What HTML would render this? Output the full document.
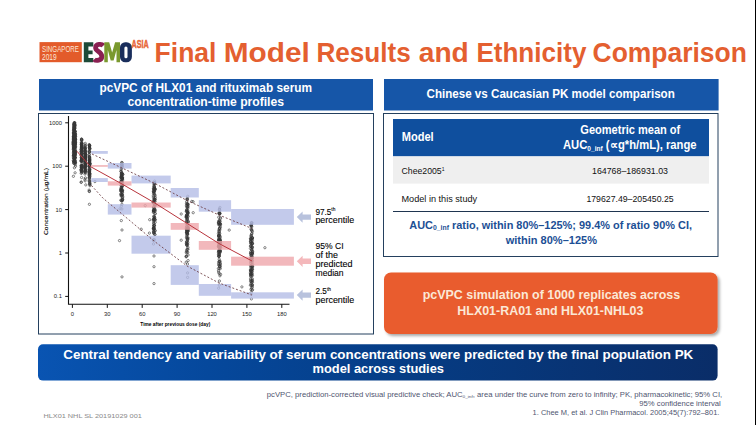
<!DOCTYPE html><html><head><meta charset="utf-8"><style>html,body{margin:0;padding:0;background:#fff;width:756px;height:425px;overflow:hidden}</style></head><body><svg width="756" height="425" viewBox="0 0 756 425" font-family="Liberation Sans, sans-serif" style="display:block">
<defs><linearGradient id="bn" x1="0" x2="1" y1="0" y2="0"><stop offset="0" stop-color="#0954b2"/><stop offset="0.25" stop-color="#05489c"/><stop offset="0.6" stop-color="#063a80"/><stop offset="1" stop-color="#0a2d68"/></linearGradient><filter id="sh" x="-5%" y="-10%" width="110%" height="130%"><feGaussianBlur in="SourceAlpha" stdDeviation="1.5"/><feOffset dx="1.5" dy="2" result="b"/><feComponentTransfer><feFuncA type="linear" slope="0.35"/></feComponentTransfer><feMerge><feMergeNode/><feMergeNode in="SourceGraphic"/></feMerge></filter></defs>
<rect width="756" height="425" fill="#fff"/>
<rect x="755" y="0" width="1" height="425" fill="#000"/>
<rect x="39.5" y="42.1" width="42.3" height="20.1" fill="#e35b2a"/>
<text x="42" y="51.6" font-size="9.3" fill="#fbe6d6" font-weight="normal" text-anchor="start" textLength="36.9" lengthAdjust="spacingAndGlyphs" >SINGAPORE</text>
<text x="42" y="59.5" font-size="9.3" fill="#fbe6d6" font-weight="normal" text-anchor="start" textLength="14.6" lengthAdjust="spacingAndGlyphs" >2019</text>
<path d="M83.8 42.3H93.3V46.6H88.4V50.4H92.6V54.3H88.4V58.1H93.3V62.3H83.8Z" fill="#1d4a38"/>
<path d="M103.4 45.6C102 43.9 95.8 43.5 95.6 47.6C95.4 51.6 101.8 51.6 101.8 56.5C101.8 60.9 95.8 61 94.2 59.3" fill="none" stroke="#8a2052" stroke-width="4.8"/>
<path d="M104.3 62.3V42.3H109.2L112.15 52.5L115.1 42.3H120V62.3H116.5V50L113.6 60.5H110.7L107.8 50V62.3Z" fill="#7a992e"/>
<rect x="120" y="42.3" width="11.9" height="20" rx="5.2" fill="#1a2e5c"/>
<rect x="124.4" y="46.6" width="3.1" height="11.6" rx="1.5" fill="#fff"/>
<text x="131.6" y="47.5" font-size="11" fill="#e8673a" font-weight="bold" text-anchor="start" textLength="17.2" lengthAdjust="spacingAndGlyphs" stroke="#e8673a" stroke-width="0.5">ASIA</text>
<text x="154.60000000000002" y="61.5" font-size="28" fill="#e45f30" font-weight="bold" text-anchor="start" textLength="61.8" lengthAdjust="spacingAndGlyphs" >Final</text>
<text x="223.8" y="61.5" font-size="28" fill="#e45f30" font-weight="bold" text-anchor="start" textLength="86.0" lengthAdjust="spacingAndGlyphs" >Model</text>
<text x="316.4" y="61.5" font-size="28" fill="#e45f30" font-weight="bold" text-anchor="start" textLength="94.4" lengthAdjust="spacingAndGlyphs" >Results</text>
<text x="418.79999999999995" y="61.5" font-size="28" fill="#e45f30" font-weight="bold" text-anchor="start" textLength="50.0" lengthAdjust="spacingAndGlyphs" >and</text>
<text x="476.4" y="61.5" font-size="28" fill="#e45f30" font-weight="bold" text-anchor="start" textLength="110.0" lengthAdjust="spacingAndGlyphs" >Ethnicity</text>
<text x="592.5999999999999" y="61.5" font-size="28" fill="#e45f30" font-weight="bold" text-anchor="start" textLength="154.2" lengthAdjust="spacingAndGlyphs" >Comparison</text>
<rect x="39" y="79" width="334" height="31.5" fill="#1656a8"/>
<text x="99.5" y="92" font-size="12.5" fill="#fff" font-weight="bold" text-anchor="start" textLength="212.5" lengthAdjust="spacingAndGlyphs" >pcVPC of HLX01 and rituximab serum</text>
<text x="127.5" y="106" font-size="12.5" fill="#fff" font-weight="bold" text-anchor="start" textLength="156.5" lengthAdjust="spacingAndGlyphs" >concentration-time profiles</text>
<rect x="384" y="79" width="334.6" height="31.5" fill="#1656a8"/>
<text x="426.5" y="98.3" font-size="12.4" fill="#fff" font-weight="bold" text-anchor="start" textLength="248.3" lengthAdjust="spacingAndGlyphs" >Chinese vs Caucasian PK model comparison</text>
<rect x="38.5" y="113.5" width="335" height="220.5" fill="none" stroke="#24405e" stroke-width="1"/>
<rect x="383.5" y="113.5" width="334.5" height="143" fill="none" stroke="#24405e" stroke-width="1"/>
<rect x="393" y="119" width="316" height="37.4" fill="#0f4f9e"/>
<rect x="393" y="156.4" width="316" height="27.2" fill="#efefef"/>
<rect x="393" y="211" width="316" height="1" fill="#1f3550"/>
<text x="401.7" y="140.9" font-size="12.6" fill="#fff" font-weight="bold" text-anchor="start" textLength="32" lengthAdjust="spacingAndGlyphs" >Model</text>
<text x="580.3" y="134" font-size="12" fill="#fff" font-weight="bold" text-anchor="start" textLength="100" lengthAdjust="spacingAndGlyphs" >Geometric mean of</text>
<text x="563" y="149" font-size="12" fill="#fff" font-weight="bold" text-anchor="start" textLength="133.6" lengthAdjust="spacingAndGlyphs" >AUC<tspan font-size="7" dy="1.5">0_inf</tspan><tspan dy="-1.5"> (∝g*h/mL), range</tspan></text>
<text x="401.5" y="173.7" font-size="8.6" fill="#111" font-weight="normal" text-anchor="start" textLength="43" lengthAdjust="spacingAndGlyphs" >Chee2005<tspan font-size="5" dy="-3">1</tspan></text>
<text x="592" y="173.75" font-size="8.6" fill="#111" font-weight="normal" text-anchor="start" textLength="76" lengthAdjust="spacingAndGlyphs" >164768–186931.03</text>
<text x="401.5" y="201.7" font-size="8.6" fill="#111" font-weight="normal" text-anchor="start" textLength="75.6" lengthAdjust="spacingAndGlyphs" >Model in this study</text>
<text x="586.4" y="201.7" font-size="8.6" fill="#111" font-weight="normal" text-anchor="start" textLength="87.3" lengthAdjust="spacingAndGlyphs" >179627.49–205450.25</text>
<text x="409.3" y="228.6" font-size="11.2" fill="#1c4f95" font-weight="bold" text-anchor="start" textLength="282.7" lengthAdjust="spacingAndGlyphs" >AUC<tspan font-size="7" dy="1.5">0_inf</tspan><tspan dy="-1.5"> ratio, within 80%–125%; 99.4% of ratio 90% CI,</tspan></text>
<text x="505.7" y="243.6" font-size="11.2" fill="#1c4f95" font-weight="bold" text-anchor="start" textLength="91.3" lengthAdjust="spacingAndGlyphs" >within 80%–125%</text>
<rect x="384" y="272.4" width="333.6" height="61.6" rx="7" fill="#e95c2d" filter="url(#sh)"/>
<text x="422.7" y="298.8" font-size="12" fill="#fbe8d6" font-weight="bold" text-anchor="start" textLength="257.5" lengthAdjust="spacingAndGlyphs" >pcVPC simulation of 1000 replicates across</text>
<text x="457.3" y="315.2" font-size="12" fill="#fbe8d6" font-weight="bold" text-anchor="start" textLength="186.1" lengthAdjust="spacingAndGlyphs" >HLX01-RA01 and HLX01-NHL03</text>
<rect x="38" y="344.2" width="679.6" height="36.4" rx="5" fill="url(#bn)"/>
<text x="63.3" y="359" font-size="13.2" fill="#fff" font-weight="bold" text-anchor="start" textLength="630" lengthAdjust="spacingAndGlyphs" >Central tendency and variability of serum concentrations were predicted by the final population PK</text>
<text x="312.5" y="373.3" font-size="13.2" fill="#fff" font-weight="bold" text-anchor="start" textLength="131.5" lengthAdjust="spacingAndGlyphs" >model across studies</text>
<text x="722.2" y="396.9" font-size="6.6" fill="#4f5570" font-weight="normal" text-anchor="end" textLength="455.4" lengthAdjust="spacingAndGlyphs" >pcVPC, prediction-corrected visual predictive check; AUC<tspan font-size="4" dy="1">0_inf</tspan><tspan dy="-1">, area under the curve from zero to infinity; PK, pharmacokinetic; 95% CI,</tspan></text>
<text x="720.8" y="405.6" font-size="6.6" fill="#4f5570" font-weight="normal" text-anchor="end" textLength="81.5" lengthAdjust="spacingAndGlyphs" >95% confidence interval</text>
<text x="719.4" y="415.2" font-size="6.6" fill="#4f5570" font-weight="normal" text-anchor="end" textLength="186.8" lengthAdjust="spacingAndGlyphs" >1. Chee M, et al. J Clin Pharmacol. 2005;45(7):792–801.</text>
<text x="43.4" y="417.7" font-size="6.2" fill="#8a8a8a" font-weight="normal" text-anchor="start" textLength="98.4" lengthAdjust="spacingAndGlyphs" >HLX01 NHL SL 20191029 001</text>
<g fill="none" stroke="#353535" stroke-width="0.6">
<circle cx="74.6" cy="128.9" r="1.15"/>
<circle cx="74.1" cy="145.3" r="1.15"/>
<circle cx="73.3" cy="144.1" r="1.15"/>
<circle cx="73.9" cy="125.5" r="1.15"/>
<circle cx="73.5" cy="157.6" r="1.15"/>
<circle cx="75.4" cy="149.2" r="1.15"/>
<circle cx="75.5" cy="139.4" r="1.15"/>
<circle cx="73.9" cy="159.0" r="1.15"/>
<circle cx="74.1" cy="127.5" r="1.15"/>
<circle cx="74.7" cy="138.7" r="1.15"/>
<circle cx="73.4" cy="145.8" r="1.15"/>
<circle cx="74.7" cy="131.3" r="1.15"/>
<circle cx="74.6" cy="135.9" r="1.15"/>
<circle cx="75.1" cy="135.2" r="1.15"/>
<circle cx="74.5" cy="139.9" r="1.15"/>
<circle cx="75.5" cy="144.1" r="1.15"/>
<circle cx="75.0" cy="140.3" r="1.15"/>
<circle cx="73.3" cy="143.3" r="1.15"/>
<circle cx="75.3" cy="150.9" r="1.15"/>
<circle cx="74.6" cy="152.1" r="1.15"/>
<circle cx="75.2" cy="141.9" r="1.15"/>
<circle cx="73.4" cy="146.7" r="1.15"/>
<circle cx="75.1" cy="157.4" r="1.15"/>
<circle cx="74.8" cy="138.9" r="1.15"/>
<circle cx="73.6" cy="142.1" r="1.15"/>
<circle cx="74.7" cy="125.0" r="1.15"/>
<circle cx="74.2" cy="133.0" r="1.15"/>
<circle cx="74.5" cy="133.8" r="1.15"/>
<circle cx="73.9" cy="158.3" r="1.15"/>
<circle cx="75.3" cy="137.7" r="1.15"/>
<circle cx="73.9" cy="129.5" r="1.15"/>
<circle cx="74.6" cy="143.1" r="1.15"/>
<circle cx="74.3" cy="122.7" r="1.15"/>
<circle cx="75.4" cy="146.6" r="1.15"/>
<circle cx="74.8" cy="146.6" r="1.15"/>
<circle cx="75.0" cy="160.7" r="1.15"/>
<circle cx="74.2" cy="147.8" r="1.15"/>
<circle cx="73.4" cy="149.5" r="1.15"/>
<circle cx="73.7" cy="131.4" r="1.15"/>
<circle cx="73.9" cy="124.7" r="1.15"/>
<circle cx="74.2" cy="126.8" r="1.15"/>
<circle cx="74.7" cy="159.7" r="1.15"/>
<circle cx="74.1" cy="133.2" r="1.15"/>
<circle cx="74.9" cy="127.7" r="1.15"/>
<circle cx="73.4" cy="142.7" r="1.15"/>
<circle cx="73.9" cy="137.1" r="1.15"/>
<circle cx="75.0" cy="126.4" r="1.15"/>
<circle cx="74.5" cy="128.7" r="1.15"/>
<circle cx="75.5" cy="144.9" r="1.15"/>
<circle cx="74.1" cy="142.8" r="1.15"/>
<circle cx="74.5" cy="155.3" r="1.15"/>
<circle cx="75.1" cy="134.2" r="1.15"/>
<circle cx="75.1" cy="157.7" r="1.15"/>
<circle cx="74.1" cy="138.3" r="1.15"/>
<circle cx="74.2" cy="123.7" r="1.15"/>
<circle cx="75.4" cy="151.9" r="1.15"/>
<circle cx="75.5" cy="162.3" r="1.15"/>
<circle cx="73.8" cy="134.9" r="1.15"/>
<circle cx="74.6" cy="131.2" r="1.15"/>
<circle cx="74.8" cy="150.5" r="1.15"/>
<circle cx="75.3" cy="138.3" r="1.15"/>
<circle cx="73.7" cy="148.6" r="1.15"/>
<circle cx="75.5" cy="146.6" r="1.15"/>
<circle cx="75.4" cy="139.6" r="1.15"/>
<circle cx="73.8" cy="128.8" r="1.15"/>
<circle cx="75.2" cy="142.7" r="1.15"/>
<circle cx="74.5" cy="143.9" r="1.15"/>
<circle cx="74.8" cy="123.1" r="1.15"/>
<circle cx="74.2" cy="153.5" r="1.15"/>
<circle cx="73.8" cy="144.5" r="1.15"/>
<circle cx="74.6" cy="132.7" r="1.15"/>
<circle cx="73.6" cy="140.3" r="1.15"/>
<circle cx="74.6" cy="139.8" r="1.15"/>
<circle cx="74.4" cy="150.9" r="1.15"/>
<circle cx="73.3" cy="144.7" r="1.15"/>
<circle cx="73.5" cy="130.3" r="1.15"/>
<circle cx="74.9" cy="136.2" r="1.15"/>
<circle cx="74.4" cy="136.4" r="1.15"/>
<circle cx="73.5" cy="155.8" r="1.15"/>
<circle cx="73.9" cy="133.1" r="1.15"/>
<circle cx="75.0" cy="145.2" r="1.15"/>
<circle cx="74.4" cy="144.9" r="1.15"/>
<circle cx="74.3" cy="151.9" r="1.15"/>
<circle cx="75.4" cy="142.8" r="1.15"/>
<circle cx="73.8" cy="161.1" r="1.15"/>
<circle cx="75.2" cy="162.6" r="1.15"/>
<circle cx="74.3" cy="127.7" r="1.15"/>
<circle cx="73.5" cy="132.7" r="1.15"/>
<circle cx="73.6" cy="158.2" r="1.15"/>
<circle cx="75.3" cy="139.6" r="1.15"/>
<circle cx="74.2" cy="147.4" r="1.15"/>
<circle cx="75.2" cy="164.6" r="1.15"/>
<circle cx="74.4" cy="140.8" r="1.15"/>
<circle cx="74.1" cy="130.8" r="1.15"/>
<circle cx="74.3" cy="134.7" r="1.15"/>
<circle cx="74.7" cy="136.6" r="1.15"/>
<circle cx="75.0" cy="125.2" r="1.15"/>
<circle cx="73.9" cy="145.4" r="1.15"/>
<circle cx="73.9" cy="155.6" r="1.15"/>
<circle cx="75.3" cy="140.4" r="1.15"/>
<circle cx="75.2" cy="131.2" r="1.15"/>
<circle cx="73.5" cy="152.3" r="1.15"/>
<circle cx="74.2" cy="151.7" r="1.15"/>
<circle cx="74.7" cy="162.4" r="1.15"/>
<circle cx="73.4" cy="142.5" r="1.15"/>
<circle cx="74.5" cy="139.3" r="1.15"/>
<circle cx="74.5" cy="130.9" r="1.15"/>
<circle cx="73.9" cy="127.2" r="1.15"/>
<circle cx="74.0" cy="131.1" r="1.15"/>
<circle cx="73.9" cy="154.8" r="1.15"/>
<circle cx="74.1" cy="130.1" r="1.15"/>
<circle cx="73.4" cy="133.1" r="1.15"/>
<circle cx="74.3" cy="138.2" r="1.15"/>
<circle cx="74.2" cy="142.2" r="1.15"/>
<circle cx="74.2" cy="158.0" r="1.15"/>
<circle cx="75.5" cy="151.7" r="1.15"/>
<circle cx="74.9" cy="157.9" r="1.15"/>
<circle cx="73.4" cy="138.5" r="1.15"/>
<circle cx="74.7" cy="125.5" r="1.15"/>
<circle cx="73.7" cy="129.4" r="1.15"/>
<circle cx="73.9" cy="155.2" r="1.15"/>
<circle cx="74.3" cy="135.0" r="1.15"/>
<circle cx="73.9" cy="141.4" r="1.15"/>
<circle cx="73.8" cy="154.8" r="1.15"/>
<circle cx="73.3" cy="136.7" r="1.15"/>
<circle cx="74.4" cy="142.7" r="1.15"/>
<circle cx="73.3" cy="144.0" r="1.15"/>
<circle cx="74.3" cy="126.3" r="1.15"/>
<circle cx="74.2" cy="123.5" r="1.15"/>
<circle cx="74.5" cy="147.4" r="1.15"/>
<circle cx="75.3" cy="151.7" r="1.15"/>
<circle cx="75.5" cy="136.4" r="1.15"/>
<circle cx="74.7" cy="153.3" r="1.15"/>
<circle cx="75.3" cy="158.0" r="1.15"/>
<circle cx="73.6" cy="155.4" r="1.15"/>
<circle cx="75.2" cy="143.9" r="1.15"/>
<circle cx="75.3" cy="152.5" r="1.15"/>
<circle cx="73.3" cy="142.1" r="1.15"/>
<circle cx="73.5" cy="137.8" r="1.15"/>
<circle cx="74.7" cy="147.7" r="1.15"/>
<circle cx="75.0" cy="133.0" r="1.15"/>
<circle cx="74.8" cy="144.6" r="1.15"/>
<circle cx="73.8" cy="153.8" r="1.15"/>
<circle cx="74.9" cy="133.8" r="1.15"/>
<circle cx="75.5" cy="153.9" r="1.15"/>
<circle cx="74.4" cy="138.8" r="1.15"/>
<circle cx="74.7" cy="151.9" r="1.15"/>
<circle cx="74.0" cy="128.8" r="1.15"/>
<circle cx="73.3" cy="141.0" r="1.15"/>
<circle cx="74.8" cy="133.9" r="1.15"/>
<circle cx="74.4" cy="143.0" r="1.15"/>
<circle cx="73.5" cy="142.3" r="1.15"/>
<circle cx="75.4" cy="147.5" r="1.15"/>
<circle cx="75.1" cy="142.0" r="1.15"/>
<circle cx="73.7" cy="137.8" r="1.15"/>
<circle cx="73.6" cy="139.3" r="1.15"/>
<circle cx="73.6" cy="163.0" r="1.15"/>
<circle cx="74.9" cy="152.2" r="1.15"/>
<circle cx="74.4" cy="160.7" r="1.15"/>
<circle cx="74.4" cy="122.7" r="1.15"/>
<circle cx="73.6" cy="135.3" r="1.15"/>
<circle cx="75.2" cy="135.9" r="1.15"/>
<circle cx="75.2" cy="154.4" r="1.15"/>
<circle cx="74.9" cy="161.9" r="1.15"/>
<circle cx="74.2" cy="136.6" r="1.15"/>
<circle cx="74.2" cy="142.7" r="1.15"/>
<circle cx="74.0" cy="124.6" r="1.15"/>
<circle cx="73.8" cy="148.5" r="1.15"/>
<circle cx="73.7" cy="144.2" r="1.15"/>
<circle cx="75.3" cy="163.1" r="1.15"/>
<circle cx="75.4" cy="155.3" r="1.15"/>
<circle cx="73.4" cy="153.1" r="1.15"/>
<circle cx="74.7" cy="148.1" r="1.15"/>
<circle cx="74.9" cy="124.6" r="1.15"/>
<circle cx="74.0" cy="142.6" r="1.15"/>
<circle cx="75.5" cy="153.9" r="1.15"/>
<circle cx="73.9" cy="150.4" r="1.15"/>
<circle cx="73.6" cy="139.3" r="1.15"/>
<circle cx="75.2" cy="131.3" r="1.15"/>
<circle cx="75.2" cy="131.9" r="1.15"/>
<circle cx="73.7" cy="135.0" r="1.15"/>
<circle cx="73.5" cy="137.0" r="1.15"/>
<circle cx="74.6" cy="133.5" r="1.15"/>
<circle cx="74.2" cy="147.2" r="1.15"/>
<circle cx="74.0" cy="138.5" r="1.15"/>
<circle cx="75.5" cy="134.3" r="1.15"/>
<circle cx="74.7" cy="143.9" r="1.15"/>
<circle cx="73.9" cy="132.8" r="1.15"/>
<circle cx="75.4" cy="141.4" r="1.15"/>
<circle cx="73.3" cy="141.5" r="1.15"/>
<circle cx="74.6" cy="151.6" r="1.15"/>
<circle cx="75.4" cy="139.1" r="1.15"/>
<circle cx="73.8" cy="161.3" r="1.15"/>
<circle cx="74.4" cy="129.1" r="1.15"/>
<circle cx="74.7" cy="157.8" r="1.15"/>
<circle cx="73.3" cy="143.9" r="1.15"/>
<circle cx="74.7" cy="147.0" r="1.15"/>
<circle cx="74.0" cy="127.9" r="1.15"/>
<circle cx="73.4" cy="139.7" r="1.15"/>
<circle cx="74.1" cy="147.3" r="1.15"/>
<circle cx="73.3" cy="148.0" r="1.15"/>
<circle cx="75.5" cy="142.1" r="1.15"/>
<circle cx="73.8" cy="151.4" r="1.15"/>
<circle cx="74.9" cy="163.3" r="1.15"/>
<circle cx="74.4" cy="123.4" r="1.15"/>
<circle cx="74.8" cy="136.9" r="1.15"/>
<circle cx="74.2" cy="128.0" r="1.15"/>
<circle cx="73.7" cy="151.5" r="1.15"/>
<circle cx="73.7" cy="148.9" r="1.15"/>
<circle cx="73.8" cy="146.5" r="1.15"/>
<circle cx="73.9" cy="154.8" r="1.15"/>
<circle cx="73.8" cy="137.0" r="1.15"/>
<circle cx="75.4" cy="150.8" r="1.15"/>
<circle cx="73.7" cy="139.2" r="1.15"/>
<circle cx="73.8" cy="126.6" r="1.15"/>
<circle cx="75.3" cy="160.7" r="1.15"/>
<circle cx="74.0" cy="163.5" r="1.15"/>
<circle cx="75.0" cy="162.3" r="1.15"/>
<circle cx="74.1" cy="150.7" r="1.15"/>
<circle cx="73.6" cy="136.6" r="1.15"/>
<circle cx="74.1" cy="134.4" r="1.15"/>
<circle cx="73.7" cy="145.6" r="1.15"/>
<circle cx="75.1" cy="157.4" r="1.15"/>
<circle cx="74.4" cy="124.6" r="1.15"/>
<circle cx="73.7" cy="161.6" r="1.15"/>
<circle cx="73.3" cy="160.6" r="1.15"/>
<circle cx="75.0" cy="157.0" r="1.15"/>
<circle cx="74.0" cy="124.0" r="1.15"/>
<circle cx="75.3" cy="143.8" r="1.15"/>
<circle cx="75.4" cy="134.1" r="1.15"/>
<circle cx="74.0" cy="143.3" r="1.15"/>
<circle cx="74.6" cy="122.7" r="1.15"/>
<circle cx="73.3" cy="156.0" r="1.15"/>
<circle cx="75.5" cy="142.7" r="1.15"/>
<circle cx="74.2" cy="136.0" r="1.15"/>
<circle cx="73.7" cy="161.9" r="1.15"/>
<circle cx="75.0" cy="155.7" r="1.15"/>
<circle cx="74.1" cy="136.3" r="1.15"/>
<circle cx="74.8" cy="128.4" r="1.15"/>
<circle cx="73.9" cy="125.3" r="1.15"/>
<circle cx="75.5" cy="136.3" r="1.15"/>
<circle cx="73.4" cy="149.1" r="1.15"/>
<circle cx="74.9" cy="143.7" r="1.15"/>
<circle cx="74.2" cy="132.5" r="1.15"/>
<circle cx="75.2" cy="152.7" r="1.15"/>
<circle cx="73.9" cy="142.9" r="1.15"/>
<circle cx="74.9" cy="138.4" r="1.15"/>
<circle cx="73.9" cy="133.0" r="1.15"/>
<circle cx="74.6" cy="160.1" r="1.15"/>
<circle cx="75.5" cy="139.3" r="1.15"/>
<circle cx="74.4" cy="167.8" r="1.15"/>
<circle cx="75.1" cy="172.8" r="1.15"/>
<circle cx="75.5" cy="166.2" r="1.15"/>
<circle cx="81.9" cy="166.8" r="1.15"/>
<circle cx="81.3" cy="144.7" r="1.15"/>
<circle cx="81.7" cy="172.1" r="1.15"/>
<circle cx="81.5" cy="160.1" r="1.15"/>
<circle cx="82.0" cy="165.4" r="1.15"/>
<circle cx="81.7" cy="159.3" r="1.15"/>
<circle cx="81.2" cy="151.5" r="1.15"/>
<circle cx="81.7" cy="147.7" r="1.15"/>
<circle cx="81.5" cy="142.7" r="1.15"/>
<circle cx="81.4" cy="147.5" r="1.15"/>
<circle cx="81.2" cy="149.4" r="1.15"/>
<circle cx="81.7" cy="157.7" r="1.15"/>
<circle cx="81.7" cy="144.6" r="1.15"/>
<circle cx="81.4" cy="148.6" r="1.15"/>
<circle cx="81.5" cy="153.9" r="1.15"/>
<circle cx="82.1" cy="168.4" r="1.15"/>
<circle cx="81.8" cy="145.7" r="1.15"/>
<circle cx="81.7" cy="139.2" r="1.15"/>
<circle cx="81.5" cy="166.9" r="1.15"/>
<circle cx="81.1" cy="149.6" r="1.15"/>
<circle cx="82.0" cy="160.8" r="1.15"/>
<circle cx="81.5" cy="160.2" r="1.15"/>
<circle cx="81.5" cy="144.0" r="1.15"/>
<circle cx="81.2" cy="170.5" r="1.15"/>
<circle cx="82.1" cy="166.4" r="1.15"/>
<circle cx="81.9" cy="143.3" r="1.15"/>
<circle cx="82.0" cy="148.1" r="1.15"/>
<circle cx="81.7" cy="169.7" r="1.15"/>
<circle cx="81.3" cy="155.1" r="1.15"/>
<circle cx="81.9" cy="167.8" r="1.15"/>
<circle cx="81.5" cy="146.4" r="1.15"/>
<circle cx="81.2" cy="152.0" r="1.15"/>
<circle cx="82.0" cy="163.6" r="1.15"/>
<circle cx="81.9" cy="158.1" r="1.15"/>
<circle cx="81.2" cy="167.5" r="1.15"/>
<circle cx="81.7" cy="157.7" r="1.15"/>
<circle cx="81.7" cy="153.3" r="1.15"/>
<circle cx="81.5" cy="161.4" r="1.15"/>
<circle cx="81.6" cy="139.8" r="1.15"/>
<circle cx="81.8" cy="147.0" r="1.15"/>
<circle cx="81.6" cy="149.8" r="1.15"/>
<circle cx="81.6" cy="143.4" r="1.15"/>
<circle cx="81.6" cy="154.0" r="1.15"/>
<circle cx="81.2" cy="160.6" r="1.15"/>
<circle cx="81.2" cy="160.9" r="1.15"/>
<circle cx="82.1" cy="151.8" r="1.15"/>
<circle cx="82.1" cy="168.1" r="1.15"/>
<circle cx="82.1" cy="156.1" r="1.15"/>
<circle cx="82.0" cy="171.5" r="1.15"/>
<circle cx="82.0" cy="165.8" r="1.15"/>
<circle cx="81.9" cy="150.9" r="1.15"/>
<circle cx="81.4" cy="169.5" r="1.15"/>
<circle cx="82.0" cy="150.0" r="1.15"/>
<circle cx="81.6" cy="147.9" r="1.15"/>
<circle cx="81.5" cy="140.3" r="1.15"/>
<circle cx="81.8" cy="170.8" r="1.15"/>
<circle cx="81.2" cy="155.2" r="1.15"/>
<circle cx="81.5" cy="160.6" r="1.15"/>
<circle cx="82.0" cy="158.3" r="1.15"/>
<circle cx="81.7" cy="172.8" r="1.15"/>
<circle cx="81.4" cy="166.1" r="1.15"/>
<circle cx="81.9" cy="154.9" r="1.15"/>
<circle cx="81.8" cy="145.0" r="1.15"/>
<circle cx="81.4" cy="166.9" r="1.15"/>
<circle cx="81.8" cy="165.7" r="1.15"/>
<circle cx="81.4" cy="139.1" r="1.15"/>
<circle cx="81.5" cy="159.9" r="1.15"/>
<circle cx="81.2" cy="169.4" r="1.15"/>
<circle cx="81.1" cy="161.2" r="1.15"/>
<circle cx="81.2" cy="151.1" r="1.15"/>
<circle cx="81.7" cy="146.6" r="1.15"/>
<circle cx="81.7" cy="145.9" r="1.15"/>
<circle cx="81.9" cy="143.6" r="1.15"/>
<circle cx="81.3" cy="144.1" r="1.15"/>
<circle cx="81.5" cy="167.1" r="1.15"/>
<circle cx="81.7" cy="139.4" r="1.15"/>
<circle cx="81.7" cy="150.9" r="1.15"/>
<circle cx="81.8" cy="170.9" r="1.15"/>
<circle cx="81.1" cy="169.7" r="1.15"/>
<circle cx="81.3" cy="152.8" r="1.15"/>
<circle cx="81.1" cy="165.5" r="1.15"/>
<circle cx="81.2" cy="171.0" r="1.15"/>
<circle cx="81.6" cy="159.7" r="1.15"/>
<circle cx="81.4" cy="155.8" r="1.15"/>
<circle cx="81.8" cy="140.6" r="1.15"/>
<circle cx="81.9" cy="151.3" r="1.15"/>
<circle cx="81.6" cy="159.5" r="1.15"/>
<circle cx="81.5" cy="142.6" r="1.15"/>
<circle cx="81.8" cy="150.4" r="1.15"/>
<circle cx="81.4" cy="165.5" r="1.15"/>
<circle cx="81.9" cy="153.8" r="1.15"/>
<circle cx="81.7" cy="148.0" r="1.15"/>
<circle cx="81.1" cy="157.6" r="1.15"/>
<circle cx="81.8" cy="147.0" r="1.15"/>
<circle cx="82.0" cy="157.2" r="1.15"/>
<circle cx="81.9" cy="147.1" r="1.15"/>
<circle cx="82.1" cy="162.1" r="1.15"/>
<circle cx="81.8" cy="167.6" r="1.15"/>
<circle cx="81.7" cy="158.8" r="1.15"/>
<circle cx="81.7" cy="146.2" r="1.15"/>
<circle cx="81.2" cy="182.1" r="1.15"/>
<circle cx="81.2" cy="173.3" r="1.15"/>
<circle cx="81.2" cy="182.3" r="1.15"/>
<circle cx="85.0" cy="147.7" r="1.15"/>
<circle cx="85.3" cy="165.9" r="1.15"/>
<circle cx="85.3" cy="156.2" r="1.15"/>
<circle cx="85.5" cy="170.0" r="1.15"/>
<circle cx="85.5" cy="158.4" r="1.15"/>
<circle cx="85.0" cy="148.2" r="1.15"/>
<circle cx="85.4" cy="171.0" r="1.15"/>
<circle cx="85.0" cy="167.0" r="1.15"/>
<circle cx="85.3" cy="146.2" r="1.15"/>
<circle cx="85.1" cy="153.5" r="1.15"/>
<circle cx="85.1" cy="151.5" r="1.15"/>
<circle cx="85.6" cy="154.4" r="1.15"/>
<circle cx="85.3" cy="171.1" r="1.15"/>
<circle cx="85.1" cy="156.6" r="1.15"/>
<circle cx="85.2" cy="160.3" r="1.15"/>
<circle cx="84.9" cy="171.5" r="1.15"/>
<circle cx="85.1" cy="145.8" r="1.15"/>
<circle cx="85.2" cy="159.2" r="1.15"/>
<circle cx="84.9" cy="169.3" r="1.15"/>
<circle cx="85.5" cy="154.5" r="1.15"/>
<circle cx="85.0" cy="174.1" r="1.15"/>
<circle cx="85.2" cy="166.1" r="1.15"/>
<circle cx="84.9" cy="164.0" r="1.15"/>
<circle cx="85.3" cy="167.5" r="1.15"/>
<circle cx="85.1" cy="156.2" r="1.15"/>
<circle cx="84.8" cy="159.1" r="1.15"/>
<circle cx="85.5" cy="151.7" r="1.15"/>
<circle cx="85.5" cy="155.5" r="1.15"/>
<circle cx="85.2" cy="158.2" r="1.15"/>
<circle cx="85.1" cy="166.1" r="1.15"/>
<circle cx="85.4" cy="148.1" r="1.15"/>
<circle cx="85.2" cy="158.0" r="1.15"/>
<circle cx="85.2" cy="154.6" r="1.15"/>
<circle cx="85.1" cy="150.1" r="1.15"/>
<circle cx="84.9" cy="159.5" r="1.15"/>
<circle cx="85.2" cy="153.8" r="1.15"/>
<circle cx="85.0" cy="153.8" r="1.15"/>
<circle cx="85.6" cy="156.7" r="1.15"/>
<circle cx="85.6" cy="155.7" r="1.15"/>
<circle cx="85.0" cy="162.3" r="1.15"/>
<circle cx="85.1" cy="148.2" r="1.15"/>
<circle cx="85.4" cy="156.2" r="1.15"/>
<circle cx="85.2" cy="161.7" r="1.15"/>
<circle cx="85.1" cy="162.9" r="1.15"/>
<circle cx="85.3" cy="165.1" r="1.15"/>
<circle cx="85.4" cy="153.7" r="1.15"/>
<circle cx="85.5" cy="167.3" r="1.15"/>
<circle cx="85.1" cy="161.1" r="1.15"/>
<circle cx="85.4" cy="151.5" r="1.15"/>
<circle cx="85.1" cy="157.5" r="1.15"/>
<circle cx="85.1" cy="163.5" r="1.15"/>
<circle cx="85.3" cy="161.4" r="1.15"/>
<circle cx="85.6" cy="157.5" r="1.15"/>
<circle cx="84.9" cy="160.9" r="1.15"/>
<circle cx="84.9" cy="167.1" r="1.15"/>
<circle cx="85.4" cy="160.9" r="1.15"/>
<circle cx="85.5" cy="164.1" r="1.15"/>
<circle cx="85.6" cy="156.5" r="1.15"/>
<circle cx="85.1" cy="165.6" r="1.15"/>
<circle cx="85.1" cy="161.3" r="1.15"/>
<circle cx="85.1" cy="152.1" r="1.15"/>
<circle cx="85.1" cy="156.8" r="1.15"/>
<circle cx="85.0" cy="153.2" r="1.15"/>
<circle cx="85.0" cy="167.2" r="1.15"/>
<circle cx="84.9" cy="153.0" r="1.15"/>
<circle cx="85.2" cy="166.8" r="1.15"/>
<circle cx="85.5" cy="150.5" r="1.15"/>
<circle cx="85.5" cy="164.1" r="1.15"/>
<circle cx="85.2" cy="155.6" r="1.15"/>
<circle cx="85.1" cy="170.5" r="1.15"/>
<circle cx="85.0" cy="153.6" r="1.15"/>
<circle cx="84.9" cy="149.1" r="1.15"/>
<circle cx="85.1" cy="151.7" r="1.15"/>
<circle cx="85.3" cy="157.1" r="1.15"/>
<circle cx="85.5" cy="164.3" r="1.15"/>
<circle cx="85.5" cy="170.3" r="1.15"/>
<circle cx="85.3" cy="159.0" r="1.15"/>
<circle cx="85.3" cy="143.4" r="1.15"/>
<circle cx="85.0" cy="148.8" r="1.15"/>
<circle cx="85.1" cy="168.6" r="1.15"/>
<circle cx="85.4" cy="172.8" r="1.15"/>
<circle cx="85.3" cy="172.4" r="1.15"/>
<circle cx="85.4" cy="168.8" r="1.15"/>
<circle cx="85.2" cy="157.7" r="1.15"/>
<circle cx="85.2" cy="164.8" r="1.15"/>
<circle cx="85.0" cy="150.7" r="1.15"/>
<circle cx="85.2" cy="144.9" r="1.15"/>
<circle cx="85.2" cy="159.2" r="1.15"/>
<circle cx="84.8" cy="171.5" r="1.15"/>
<circle cx="85.3" cy="160.0" r="1.15"/>
<circle cx="85.5" cy="177.9" r="1.15"/>
<circle cx="85.1" cy="180.8" r="1.15"/>
<circle cx="84.9" cy="179.2" r="1.15"/>
<circle cx="89.7" cy="157.1" r="1.15"/>
<circle cx="89.5" cy="170.9" r="1.15"/>
<circle cx="89.1" cy="180.8" r="1.15"/>
<circle cx="89.8" cy="163.8" r="1.15"/>
<circle cx="89.5" cy="163.5" r="1.15"/>
<circle cx="89.4" cy="157.2" r="1.15"/>
<circle cx="89.3" cy="177.9" r="1.15"/>
<circle cx="89.3" cy="162.6" r="1.15"/>
<circle cx="89.6" cy="184.0" r="1.15"/>
<circle cx="89.3" cy="157.3" r="1.15"/>
<circle cx="89.8" cy="170.0" r="1.15"/>
<circle cx="89.8" cy="173.6" r="1.15"/>
<circle cx="89.4" cy="146.0" r="1.15"/>
<circle cx="89.8" cy="151.8" r="1.15"/>
<circle cx="89.9" cy="173.7" r="1.15"/>
<circle cx="89.7" cy="169.5" r="1.15"/>
<circle cx="89.2" cy="171.9" r="1.15"/>
<circle cx="89.1" cy="169.0" r="1.15"/>
<circle cx="89.6" cy="145.5" r="1.15"/>
<circle cx="89.8" cy="165.0" r="1.15"/>
<circle cx="89.3" cy="160.8" r="1.15"/>
<circle cx="89.4" cy="157.1" r="1.15"/>
<circle cx="89.6" cy="164.3" r="1.15"/>
<circle cx="89.7" cy="148.9" r="1.15"/>
<circle cx="89.5" cy="181.7" r="1.15"/>
<circle cx="89.6" cy="159.9" r="1.15"/>
<circle cx="89.4" cy="173.9" r="1.15"/>
<circle cx="89.2" cy="170.4" r="1.15"/>
<circle cx="89.3" cy="144.6" r="1.15"/>
<circle cx="89.1" cy="166.3" r="1.15"/>
<circle cx="89.6" cy="147.0" r="1.15"/>
<circle cx="89.2" cy="174.1" r="1.15"/>
<circle cx="89.7" cy="175.7" r="1.15"/>
<circle cx="89.6" cy="160.7" r="1.15"/>
<circle cx="89.3" cy="172.6" r="1.15"/>
<circle cx="89.1" cy="158.9" r="1.15"/>
<circle cx="89.3" cy="162.4" r="1.15"/>
<circle cx="89.5" cy="165.1" r="1.15"/>
<circle cx="89.6" cy="159.1" r="1.15"/>
<circle cx="89.2" cy="171.8" r="1.15"/>
<circle cx="89.6" cy="164.7" r="1.15"/>
<circle cx="89.8" cy="159.8" r="1.15"/>
<circle cx="89.3" cy="171.7" r="1.15"/>
<circle cx="89.7" cy="183.9" r="1.15"/>
<circle cx="89.9" cy="163.2" r="1.15"/>
<circle cx="89.4" cy="162.6" r="1.15"/>
<circle cx="89.6" cy="165.8" r="1.15"/>
<circle cx="89.1" cy="166.4" r="1.15"/>
<circle cx="89.6" cy="161.3" r="1.15"/>
<circle cx="89.8" cy="163.1" r="1.15"/>
<circle cx="89.3" cy="173.5" r="1.15"/>
<circle cx="89.9" cy="174.6" r="1.15"/>
<circle cx="89.5" cy="147.5" r="1.15"/>
<circle cx="89.9" cy="163.5" r="1.15"/>
<circle cx="89.7" cy="168.9" r="1.15"/>
<circle cx="89.3" cy="152.5" r="1.15"/>
<circle cx="89.1" cy="169.7" r="1.15"/>
<circle cx="89.6" cy="164.6" r="1.15"/>
<circle cx="89.5" cy="172.8" r="1.15"/>
<circle cx="89.3" cy="151.8" r="1.15"/>
<circle cx="89.4" cy="172.7" r="1.15"/>
<circle cx="89.5" cy="160.5" r="1.15"/>
<circle cx="89.7" cy="145.8" r="1.15"/>
<circle cx="89.6" cy="148.4" r="1.15"/>
<circle cx="89.4" cy="159.4" r="1.15"/>
<circle cx="89.3" cy="144.8" r="1.15"/>
<circle cx="89.6" cy="171.7" r="1.15"/>
<circle cx="89.4" cy="175.9" r="1.15"/>
<circle cx="89.9" cy="176.5" r="1.15"/>
<circle cx="89.4" cy="145.6" r="1.15"/>
<circle cx="89.3" cy="147.4" r="1.15"/>
<circle cx="89.5" cy="179.7" r="1.15"/>
<circle cx="89.6" cy="164.0" r="1.15"/>
<circle cx="89.8" cy="148.9" r="1.15"/>
<circle cx="89.6" cy="167.1" r="1.15"/>
<circle cx="89.5" cy="165.8" r="1.15"/>
<circle cx="89.9" cy="183.6" r="1.15"/>
<circle cx="89.4" cy="145.6" r="1.15"/>
<circle cx="89.9" cy="181.0" r="1.15"/>
<circle cx="89.7" cy="161.1" r="1.15"/>
<circle cx="89.2" cy="165.3" r="1.15"/>
<circle cx="89.3" cy="177.1" r="1.15"/>
<circle cx="89.1" cy="175.1" r="1.15"/>
<circle cx="89.2" cy="154.5" r="1.15"/>
<circle cx="89.3" cy="150.9" r="1.15"/>
<circle cx="89.1" cy="171.8" r="1.15"/>
<circle cx="89.7" cy="148.7" r="1.15"/>
<circle cx="89.8" cy="182.3" r="1.15"/>
<circle cx="89.1" cy="156.0" r="1.15"/>
<circle cx="89.5" cy="174.1" r="1.15"/>
<circle cx="89.5" cy="177.7" r="1.15"/>
<circle cx="89.2" cy="151.5" r="1.15"/>
<circle cx="89.8" cy="158.3" r="1.15"/>
<circle cx="89.2" cy="160.9" r="1.15"/>
<circle cx="89.4" cy="178.4" r="1.15"/>
<circle cx="89.3" cy="164.1" r="1.15"/>
<circle cx="89.1" cy="166.4" r="1.15"/>
<circle cx="89.5" cy="162.0" r="1.15"/>
<circle cx="89.2" cy="154.6" r="1.15"/>
<circle cx="89.9" cy="184.6" r="1.15"/>
<circle cx="89.9" cy="185.7" r="1.15"/>
<circle cx="89.3" cy="191.3" r="1.15"/>
<circle cx="89.1" cy="190.1" r="1.15"/>
<circle cx="120.8" cy="200.2" r="1.15"/>
<circle cx="120.9" cy="171.4" r="1.15"/>
<circle cx="121.7" cy="175.9" r="1.15"/>
<circle cx="121.1" cy="177.4" r="1.15"/>
<circle cx="122.2" cy="192.0" r="1.15"/>
<circle cx="121.4" cy="165.1" r="1.15"/>
<circle cx="121.2" cy="177.0" r="1.15"/>
<circle cx="122.0" cy="191.6" r="1.15"/>
<circle cx="122.0" cy="164.6" r="1.15"/>
<circle cx="120.9" cy="190.1" r="1.15"/>
<circle cx="122.5" cy="185.0" r="1.15"/>
<circle cx="122.1" cy="162.6" r="1.15"/>
<circle cx="121.3" cy="196.0" r="1.15"/>
<circle cx="121.5" cy="194.4" r="1.15"/>
<circle cx="122.0" cy="176.5" r="1.15"/>
<circle cx="121.7" cy="182.3" r="1.15"/>
<circle cx="122.1" cy="166.7" r="1.15"/>
<circle cx="122.2" cy="185.1" r="1.15"/>
<circle cx="120.9" cy="191.3" r="1.15"/>
<circle cx="121.8" cy="190.3" r="1.15"/>
<circle cx="120.8" cy="183.0" r="1.15"/>
<circle cx="121.2" cy="169.9" r="1.15"/>
<circle cx="120.9" cy="193.9" r="1.15"/>
<circle cx="121.2" cy="189.3" r="1.15"/>
<circle cx="122.0" cy="185.4" r="1.15"/>
<circle cx="121.0" cy="189.4" r="1.15"/>
<circle cx="121.0" cy="176.9" r="1.15"/>
<circle cx="121.4" cy="181.5" r="1.15"/>
<circle cx="121.1" cy="177.8" r="1.15"/>
<circle cx="121.1" cy="195.6" r="1.15"/>
<circle cx="121.1" cy="191.1" r="1.15"/>
<circle cx="121.6" cy="187.9" r="1.15"/>
<circle cx="122.7" cy="180.0" r="1.15"/>
<circle cx="121.5" cy="173.3" r="1.15"/>
<circle cx="122.4" cy="200.3" r="1.15"/>
<circle cx="120.9" cy="194.4" r="1.15"/>
<circle cx="122.7" cy="199.4" r="1.15"/>
<circle cx="122.1" cy="178.5" r="1.15"/>
<circle cx="120.9" cy="182.7" r="1.15"/>
<circle cx="120.8" cy="181.7" r="1.15"/>
<circle cx="122.4" cy="199.8" r="1.15"/>
<circle cx="122.6" cy="190.1" r="1.15"/>
<circle cx="121.3" cy="175.2" r="1.15"/>
<circle cx="122.6" cy="177.9" r="1.15"/>
<circle cx="121.7" cy="177.0" r="1.15"/>
<circle cx="122.1" cy="173.6" r="1.15"/>
<circle cx="122.7" cy="185.2" r="1.15"/>
<circle cx="121.7" cy="172.5" r="1.15"/>
<circle cx="121.3" cy="167.8" r="1.15"/>
<circle cx="121.6" cy="173.5" r="1.15"/>
<circle cx="121.1" cy="171.5" r="1.15"/>
<circle cx="122.0" cy="194.8" r="1.15"/>
<circle cx="121.2" cy="187.4" r="1.15"/>
<circle cx="122.0" cy="181.7" r="1.15"/>
<circle cx="121.3" cy="174.1" r="1.15"/>
<circle cx="121.6" cy="182.0" r="1.15"/>
<circle cx="121.7" cy="162.5" r="1.15"/>
<circle cx="121.8" cy="177.5" r="1.15"/>
<circle cx="121.4" cy="200.5" r="1.15"/>
<circle cx="122.2" cy="166.4" r="1.15"/>
<circle cx="121.7" cy="164.4" r="1.15"/>
<circle cx="121.0" cy="190.7" r="1.15"/>
<circle cx="122.3" cy="199.4" r="1.15"/>
<circle cx="121.5" cy="175.1" r="1.15"/>
<circle cx="122.4" cy="190.6" r="1.15"/>
<circle cx="122.3" cy="190.8" r="1.15"/>
<circle cx="122.2" cy="186.6" r="1.15"/>
<circle cx="120.8" cy="181.5" r="1.15"/>
<circle cx="122.7" cy="183.1" r="1.15"/>
<circle cx="122.4" cy="178.3" r="1.15"/>
<circle cx="121.7" cy="181.2" r="1.15"/>
<circle cx="121.4" cy="190.2" r="1.15"/>
<circle cx="121.6" cy="183.7" r="1.15"/>
<circle cx="122.5" cy="192.7" r="1.15"/>
<circle cx="121.2" cy="179.3" r="1.15"/>
<circle cx="121.9" cy="167.7" r="1.15"/>
<circle cx="122.3" cy="165.4" r="1.15"/>
<circle cx="122.5" cy="194.9" r="1.15"/>
<circle cx="122.6" cy="174.3" r="1.15"/>
<circle cx="121.9" cy="163.9" r="1.15"/>
<circle cx="122.3" cy="197.9" r="1.15"/>
<circle cx="121.8" cy="200.9" r="1.15"/>
<circle cx="121.6" cy="188.7" r="1.15"/>
<circle cx="121.5" cy="185.2" r="1.15"/>
<circle cx="121.0" cy="185.4" r="1.15"/>
<circle cx="121.9" cy="177.6" r="1.15"/>
<circle cx="122.7" cy="196.3" r="1.15"/>
<circle cx="122.0" cy="179.2" r="1.15"/>
<circle cx="122.4" cy="179.0" r="1.15"/>
<circle cx="122.8" cy="174.4" r="1.15"/>
<circle cx="122.6" cy="174.2" r="1.15"/>
<circle cx="122.6" cy="197.3" r="1.15"/>
<circle cx="121.5" cy="168.1" r="1.15"/>
<circle cx="121.2" cy="181.7" r="1.15"/>
<circle cx="122.0" cy="186.6" r="1.15"/>
<circle cx="122.1" cy="200.8" r="1.15"/>
<circle cx="122.4" cy="178.0" r="1.15"/>
<circle cx="120.8" cy="188.9" r="1.15"/>
<circle cx="122.0" cy="194.8" r="1.15"/>
<circle cx="121.9" cy="175.5" r="1.15"/>
<circle cx="121.3" cy="206.2" r="1.15"/>
<circle cx="121.9" cy="209.0" r="1.15"/>
<circle cx="121.9" cy="204.3" r="1.15"/>
<circle cx="154.8" cy="189.5" r="1.15"/>
<circle cx="153.8" cy="186.4" r="1.15"/>
<circle cx="154.5" cy="225.4" r="1.15"/>
<circle cx="154.6" cy="183.0" r="1.15"/>
<circle cx="154.0" cy="219.6" r="1.15"/>
<circle cx="153.4" cy="195.4" r="1.15"/>
<circle cx="154.2" cy="206.1" r="1.15"/>
<circle cx="154.7" cy="184.0" r="1.15"/>
<circle cx="154.2" cy="232.8" r="1.15"/>
<circle cx="155.0" cy="188.9" r="1.15"/>
<circle cx="155.0" cy="213.8" r="1.15"/>
<circle cx="155.3" cy="213.5" r="1.15"/>
<circle cx="153.7" cy="232.3" r="1.15"/>
<circle cx="153.7" cy="219.8" r="1.15"/>
<circle cx="154.3" cy="228.3" r="1.15"/>
<circle cx="154.0" cy="192.3" r="1.15"/>
<circle cx="153.8" cy="233.5" r="1.15"/>
<circle cx="154.4" cy="187.2" r="1.15"/>
<circle cx="153.3" cy="202.8" r="1.15"/>
<circle cx="154.0" cy="225.6" r="1.15"/>
<circle cx="153.9" cy="191.3" r="1.15"/>
<circle cx="154.5" cy="182.9" r="1.15"/>
<circle cx="154.7" cy="189.4" r="1.15"/>
<circle cx="155.0" cy="195.6" r="1.15"/>
<circle cx="155.0" cy="204.9" r="1.15"/>
<circle cx="154.8" cy="194.8" r="1.15"/>
<circle cx="153.7" cy="232.8" r="1.15"/>
<circle cx="154.2" cy="200.8" r="1.15"/>
<circle cx="153.8" cy="219.1" r="1.15"/>
<circle cx="153.7" cy="206.8" r="1.15"/>
<circle cx="153.5" cy="210.3" r="1.15"/>
<circle cx="153.8" cy="210.3" r="1.15"/>
<circle cx="154.4" cy="209.1" r="1.15"/>
<circle cx="153.4" cy="202.1" r="1.15"/>
<circle cx="153.9" cy="227.0" r="1.15"/>
<circle cx="154.0" cy="199.1" r="1.15"/>
<circle cx="153.3" cy="197.0" r="1.15"/>
<circle cx="153.5" cy="193.2" r="1.15"/>
<circle cx="155.2" cy="199.5" r="1.15"/>
<circle cx="153.5" cy="228.1" r="1.15"/>
<circle cx="154.5" cy="182.6" r="1.15"/>
<circle cx="154.6" cy="201.6" r="1.15"/>
<circle cx="154.0" cy="210.6" r="1.15"/>
<circle cx="155.0" cy="189.0" r="1.15"/>
<circle cx="153.3" cy="201.3" r="1.15"/>
<circle cx="153.9" cy="191.7" r="1.15"/>
<circle cx="154.1" cy="183.1" r="1.15"/>
<circle cx="154.5" cy="208.5" r="1.15"/>
<circle cx="154.7" cy="199.6" r="1.15"/>
<circle cx="154.6" cy="181.1" r="1.15"/>
<circle cx="155.0" cy="189.9" r="1.15"/>
<circle cx="153.6" cy="188.9" r="1.15"/>
<circle cx="154.8" cy="211.4" r="1.15"/>
<circle cx="154.1" cy="218.5" r="1.15"/>
<circle cx="153.4" cy="211.0" r="1.15"/>
<circle cx="154.7" cy="217.6" r="1.15"/>
<circle cx="154.2" cy="220.4" r="1.15"/>
<circle cx="154.1" cy="218.7" r="1.15"/>
<circle cx="153.5" cy="231.1" r="1.15"/>
<circle cx="155.0" cy="201.2" r="1.15"/>
<circle cx="155.3" cy="210.5" r="1.15"/>
<circle cx="153.3" cy="202.4" r="1.15"/>
<circle cx="153.6" cy="203.2" r="1.15"/>
<circle cx="154.6" cy="188.4" r="1.15"/>
<circle cx="154.3" cy="193.9" r="1.15"/>
<circle cx="154.0" cy="231.5" r="1.15"/>
<circle cx="153.5" cy="228.8" r="1.15"/>
<circle cx="155.0" cy="199.0" r="1.15"/>
<circle cx="153.6" cy="222.1" r="1.15"/>
<circle cx="154.9" cy="209.6" r="1.15"/>
<circle cx="154.0" cy="191.9" r="1.15"/>
<circle cx="154.0" cy="184.3" r="1.15"/>
<circle cx="154.2" cy="218.9" r="1.15"/>
<circle cx="154.2" cy="198.5" r="1.15"/>
<circle cx="153.5" cy="190.1" r="1.15"/>
<circle cx="154.9" cy="234.6" r="1.15"/>
<circle cx="155.4" cy="219.7" r="1.15"/>
<circle cx="154.3" cy="186.9" r="1.15"/>
<circle cx="154.4" cy="191.2" r="1.15"/>
<circle cx="154.6" cy="230.7" r="1.15"/>
<circle cx="153.8" cy="223.9" r="1.15"/>
<circle cx="153.5" cy="188.5" r="1.15"/>
<circle cx="153.6" cy="211.7" r="1.15"/>
<circle cx="153.6" cy="228.9" r="1.15"/>
<circle cx="153.9" cy="223.5" r="1.15"/>
<circle cx="153.9" cy="225.6" r="1.15"/>
<circle cx="154.0" cy="210.8" r="1.15"/>
<circle cx="154.4" cy="188.6" r="1.15"/>
<circle cx="155.2" cy="222.2" r="1.15"/>
<circle cx="153.5" cy="207.8" r="1.15"/>
<circle cx="153.4" cy="212.4" r="1.15"/>
<circle cx="155.3" cy="197.4" r="1.15"/>
<circle cx="154.2" cy="183.2" r="1.15"/>
<circle cx="153.2" cy="220.0" r="1.15"/>
<circle cx="154.1" cy="225.3" r="1.15"/>
<circle cx="154.3" cy="216.7" r="1.15"/>
<circle cx="154.2" cy="199.3" r="1.15"/>
<circle cx="153.6" cy="227.7" r="1.15"/>
<circle cx="154.4" cy="204.9" r="1.15"/>
<circle cx="153.4" cy="191.6" r="1.15"/>
<circle cx="155.3" cy="205.9" r="1.15"/>
<circle cx="155.3" cy="230.7" r="1.15"/>
<circle cx="154.7" cy="204.5" r="1.15"/>
<circle cx="155.3" cy="204.4" r="1.15"/>
<circle cx="153.9" cy="216.0" r="1.15"/>
<circle cx="153.3" cy="228.8" r="1.15"/>
<circle cx="154.2" cy="217.6" r="1.15"/>
<circle cx="154.0" cy="216.7" r="1.15"/>
<circle cx="154.4" cy="203.5" r="1.15"/>
<circle cx="153.5" cy="202.4" r="1.15"/>
<circle cx="154.4" cy="229.1" r="1.15"/>
<circle cx="153.8" cy="227.6" r="1.15"/>
<circle cx="153.8" cy="209.7" r="1.15"/>
<circle cx="153.7" cy="210.9" r="1.15"/>
<circle cx="154.3" cy="187.1" r="1.15"/>
<circle cx="154.2" cy="185.3" r="1.15"/>
<circle cx="155.1" cy="204.7" r="1.15"/>
<circle cx="154.9" cy="219.6" r="1.15"/>
<circle cx="154.8" cy="234.5" r="1.15"/>
<circle cx="154.1" cy="225.8" r="1.15"/>
<circle cx="153.6" cy="240.8" r="1.15"/>
<circle cx="154.4" cy="239.6" r="1.15"/>
<circle cx="153.5" cy="239.7" r="1.15"/>
<circle cx="187.0" cy="210.1" r="1.15"/>
<circle cx="186.7" cy="232.0" r="1.15"/>
<circle cx="187.1" cy="239.0" r="1.15"/>
<circle cx="187.4" cy="241.4" r="1.15"/>
<circle cx="187.8" cy="227.4" r="1.15"/>
<circle cx="187.7" cy="242.5" r="1.15"/>
<circle cx="187.8" cy="210.7" r="1.15"/>
<circle cx="187.5" cy="219.0" r="1.15"/>
<circle cx="188.0" cy="229.3" r="1.15"/>
<circle cx="187.7" cy="252.4" r="1.15"/>
<circle cx="187.2" cy="207.4" r="1.15"/>
<circle cx="186.2" cy="216.9" r="1.15"/>
<circle cx="186.6" cy="244.7" r="1.15"/>
<circle cx="187.7" cy="213.3" r="1.15"/>
<circle cx="188.0" cy="204.4" r="1.15"/>
<circle cx="188.0" cy="237.9" r="1.15"/>
<circle cx="186.6" cy="206.5" r="1.15"/>
<circle cx="188.0" cy="249.2" r="1.15"/>
<circle cx="188.0" cy="206.7" r="1.15"/>
<circle cx="186.5" cy="222.2" r="1.15"/>
<circle cx="187.5" cy="234.4" r="1.15"/>
<circle cx="186.7" cy="215.8" r="1.15"/>
<circle cx="186.6" cy="215.0" r="1.15"/>
<circle cx="187.5" cy="224.3" r="1.15"/>
<circle cx="186.2" cy="217.3" r="1.15"/>
<circle cx="186.2" cy="216.0" r="1.15"/>
<circle cx="186.3" cy="256.2" r="1.15"/>
<circle cx="186.8" cy="236.8" r="1.15"/>
<circle cx="186.8" cy="226.3" r="1.15"/>
<circle cx="188.3" cy="228.0" r="1.15"/>
<circle cx="187.9" cy="213.8" r="1.15"/>
<circle cx="187.6" cy="238.8" r="1.15"/>
<circle cx="187.9" cy="212.8" r="1.15"/>
<circle cx="186.9" cy="245.3" r="1.15"/>
<circle cx="187.6" cy="233.9" r="1.15"/>
<circle cx="187.1" cy="229.4" r="1.15"/>
<circle cx="186.9" cy="216.2" r="1.15"/>
<circle cx="186.7" cy="221.6" r="1.15"/>
<circle cx="186.5" cy="217.0" r="1.15"/>
<circle cx="187.2" cy="249.1" r="1.15"/>
<circle cx="186.9" cy="230.5" r="1.15"/>
<circle cx="187.0" cy="199.6" r="1.15"/>
<circle cx="187.4" cy="240.2" r="1.15"/>
<circle cx="187.5" cy="234.3" r="1.15"/>
<circle cx="187.5" cy="206.5" r="1.15"/>
<circle cx="187.1" cy="230.3" r="1.15"/>
<circle cx="188.2" cy="212.5" r="1.15"/>
<circle cx="186.3" cy="211.3" r="1.15"/>
<circle cx="187.7" cy="212.0" r="1.15"/>
<circle cx="186.6" cy="220.1" r="1.15"/>
<circle cx="186.6" cy="242.0" r="1.15"/>
<circle cx="186.4" cy="243.6" r="1.15"/>
<circle cx="186.5" cy="232.9" r="1.15"/>
<circle cx="188.1" cy="228.5" r="1.15"/>
<circle cx="186.9" cy="230.4" r="1.15"/>
<circle cx="187.7" cy="227.9" r="1.15"/>
<circle cx="187.2" cy="199.0" r="1.15"/>
<circle cx="186.9" cy="234.0" r="1.15"/>
<circle cx="186.8" cy="232.3" r="1.15"/>
<circle cx="187.7" cy="196.3" r="1.15"/>
<circle cx="186.3" cy="256.2" r="1.15"/>
<circle cx="186.4" cy="227.9" r="1.15"/>
<circle cx="187.8" cy="204.3" r="1.15"/>
<circle cx="187.1" cy="245.6" r="1.15"/>
<circle cx="187.4" cy="231.7" r="1.15"/>
<circle cx="187.8" cy="224.2" r="1.15"/>
<circle cx="187.9" cy="239.3" r="1.15"/>
<circle cx="188.4" cy="228.8" r="1.15"/>
<circle cx="187.4" cy="212.6" r="1.15"/>
<circle cx="187.3" cy="199.8" r="1.15"/>
<circle cx="188.4" cy="230.5" r="1.15"/>
<circle cx="186.4" cy="242.0" r="1.15"/>
<circle cx="186.5" cy="203.7" r="1.15"/>
<circle cx="186.6" cy="229.6" r="1.15"/>
<circle cx="186.6" cy="211.3" r="1.15"/>
<circle cx="186.3" cy="228.8" r="1.15"/>
<circle cx="187.3" cy="233.2" r="1.15"/>
<circle cx="187.2" cy="230.7" r="1.15"/>
<circle cx="186.4" cy="251.1" r="1.15"/>
<circle cx="187.1" cy="217.4" r="1.15"/>
<circle cx="187.1" cy="214.7" r="1.15"/>
<circle cx="186.7" cy="243.8" r="1.15"/>
<circle cx="187.2" cy="211.6" r="1.15"/>
<circle cx="187.9" cy="208.0" r="1.15"/>
<circle cx="186.7" cy="235.3" r="1.15"/>
<circle cx="188.0" cy="205.1" r="1.15"/>
<circle cx="188.0" cy="226.8" r="1.15"/>
<circle cx="187.3" cy="215.9" r="1.15"/>
<circle cx="187.5" cy="221.5" r="1.15"/>
<circle cx="188.1" cy="231.1" r="1.15"/>
<circle cx="187.0" cy="249.8" r="1.15"/>
<circle cx="188.1" cy="227.7" r="1.15"/>
<circle cx="186.5" cy="205.4" r="1.15"/>
<circle cx="186.5" cy="223.8" r="1.15"/>
<circle cx="187.6" cy="203.7" r="1.15"/>
<circle cx="188.2" cy="216.4" r="1.15"/>
<circle cx="186.3" cy="252.7" r="1.15"/>
<circle cx="187.7" cy="244.2" r="1.15"/>
<circle cx="186.7" cy="226.5" r="1.15"/>
<circle cx="186.6" cy="201.9" r="1.15"/>
<circle cx="186.5" cy="232.2" r="1.15"/>
<circle cx="187.2" cy="203.9" r="1.15"/>
<circle cx="186.5" cy="237.7" r="1.15"/>
<circle cx="187.0" cy="214.4" r="1.15"/>
<circle cx="187.0" cy="252.0" r="1.15"/>
<circle cx="188.1" cy="255.0" r="1.15"/>
<circle cx="186.8" cy="209.3" r="1.15"/>
<circle cx="187.3" cy="198.2" r="1.15"/>
<circle cx="187.0" cy="229.7" r="1.15"/>
<circle cx="187.6" cy="237.8" r="1.15"/>
<circle cx="187.7" cy="229.3" r="1.15"/>
<circle cx="187.1" cy="244.4" r="1.15"/>
<circle cx="188.3" cy="221.3" r="1.15"/>
<circle cx="187.1" cy="219.2" r="1.15"/>
<circle cx="186.2" cy="256.9" r="1.15"/>
<circle cx="187.5" cy="231.8" r="1.15"/>
<circle cx="186.6" cy="210.3" r="1.15"/>
<circle cx="187.9" cy="247.3" r="1.15"/>
<circle cx="186.9" cy="218.4" r="1.15"/>
<circle cx="188.3" cy="222.1" r="1.15"/>
<circle cx="186.2" cy="262.2" r="1.15"/>
<circle cx="188.1" cy="260.6" r="1.15"/>
<circle cx="187.5" cy="264.0" r="1.15"/>
<circle cx="220.0" cy="250.4" r="1.15"/>
<circle cx="219.3" cy="256.1" r="1.15"/>
<circle cx="219.9" cy="249.3" r="1.15"/>
<circle cx="219.6" cy="250.4" r="1.15"/>
<circle cx="219.0" cy="249.3" r="1.15"/>
<circle cx="219.5" cy="248.2" r="1.15"/>
<circle cx="218.7" cy="222.3" r="1.15"/>
<circle cx="219.6" cy="243.3" r="1.15"/>
<circle cx="220.2" cy="221.2" r="1.15"/>
<circle cx="220.2" cy="251.2" r="1.15"/>
<circle cx="219.2" cy="238.4" r="1.15"/>
<circle cx="218.7" cy="239.5" r="1.15"/>
<circle cx="219.3" cy="214.1" r="1.15"/>
<circle cx="218.6" cy="240.6" r="1.15"/>
<circle cx="219.9" cy="275.8" r="1.15"/>
<circle cx="220.2" cy="240.0" r="1.15"/>
<circle cx="219.2" cy="235.6" r="1.15"/>
<circle cx="219.2" cy="223.4" r="1.15"/>
<circle cx="218.4" cy="233.3" r="1.15"/>
<circle cx="218.5" cy="246.4" r="1.15"/>
<circle cx="219.0" cy="256.6" r="1.15"/>
<circle cx="220.2" cy="223.7" r="1.15"/>
<circle cx="220.3" cy="250.9" r="1.15"/>
<circle cx="220.1" cy="236.2" r="1.15"/>
<circle cx="219.4" cy="221.3" r="1.15"/>
<circle cx="219.0" cy="256.2" r="1.15"/>
<circle cx="220.2" cy="251.7" r="1.15"/>
<circle cx="219.7" cy="233.6" r="1.15"/>
<circle cx="220.0" cy="247.1" r="1.15"/>
<circle cx="219.1" cy="252.9" r="1.15"/>
<circle cx="219.2" cy="259.2" r="1.15"/>
<circle cx="220.4" cy="241.3" r="1.15"/>
<circle cx="219.4" cy="228.3" r="1.15"/>
<circle cx="219.3" cy="264.9" r="1.15"/>
<circle cx="219.4" cy="268.4" r="1.15"/>
<circle cx="220.2" cy="242.3" r="1.15"/>
<circle cx="218.5" cy="246.4" r="1.15"/>
<circle cx="220.1" cy="252.6" r="1.15"/>
<circle cx="218.6" cy="222.2" r="1.15"/>
<circle cx="219.9" cy="213.6" r="1.15"/>
<circle cx="219.7" cy="210.8" r="1.15"/>
<circle cx="219.9" cy="225.5" r="1.15"/>
<circle cx="220.6" cy="247.3" r="1.15"/>
<circle cx="219.1" cy="242.1" r="1.15"/>
<circle cx="219.9" cy="207.4" r="1.15"/>
<circle cx="219.1" cy="225.1" r="1.15"/>
<circle cx="219.6" cy="266.3" r="1.15"/>
<circle cx="218.5" cy="236.0" r="1.15"/>
<circle cx="220.2" cy="266.8" r="1.15"/>
<circle cx="218.5" cy="222.8" r="1.15"/>
<circle cx="219.4" cy="232.8" r="1.15"/>
<circle cx="219.2" cy="247.3" r="1.15"/>
<circle cx="219.6" cy="245.6" r="1.15"/>
<circle cx="219.6" cy="228.7" r="1.15"/>
<circle cx="219.1" cy="246.0" r="1.15"/>
<circle cx="219.0" cy="261.9" r="1.15"/>
<circle cx="219.4" cy="255.1" r="1.15"/>
<circle cx="218.5" cy="252.6" r="1.15"/>
<circle cx="218.5" cy="251.1" r="1.15"/>
<circle cx="218.8" cy="230.1" r="1.15"/>
<circle cx="219.5" cy="254.0" r="1.15"/>
<circle cx="218.9" cy="240.5" r="1.15"/>
<circle cx="218.9" cy="243.7" r="1.15"/>
<circle cx="219.9" cy="213.6" r="1.15"/>
<circle cx="219.0" cy="244.0" r="1.15"/>
<circle cx="218.5" cy="236.0" r="1.15"/>
<circle cx="219.0" cy="237.3" r="1.15"/>
<circle cx="219.1" cy="247.2" r="1.15"/>
<circle cx="220.4" cy="217.6" r="1.15"/>
<circle cx="218.7" cy="265.1" r="1.15"/>
<circle cx="218.5" cy="254.3" r="1.15"/>
<circle cx="218.9" cy="251.2" r="1.15"/>
<circle cx="219.4" cy="213.5" r="1.15"/>
<circle cx="218.7" cy="245.3" r="1.15"/>
<circle cx="220.6" cy="243.1" r="1.15"/>
<circle cx="219.2" cy="235.2" r="1.15"/>
<circle cx="218.6" cy="256.2" r="1.15"/>
<circle cx="219.7" cy="266.6" r="1.15"/>
<circle cx="219.0" cy="213.1" r="1.15"/>
<circle cx="220.3" cy="268.6" r="1.15"/>
<circle cx="218.5" cy="270.8" r="1.15"/>
<circle cx="219.2" cy="273.7" r="1.15"/>
<circle cx="219.1" cy="231.4" r="1.15"/>
<circle cx="220.0" cy="224.1" r="1.15"/>
<circle cx="219.1" cy="261.4" r="1.15"/>
<circle cx="218.6" cy="245.6" r="1.15"/>
<circle cx="219.7" cy="261.4" r="1.15"/>
<circle cx="219.5" cy="209.3" r="1.15"/>
<circle cx="218.7" cy="251.6" r="1.15"/>
<circle cx="219.2" cy="231.3" r="1.15"/>
<circle cx="220.5" cy="218.5" r="1.15"/>
<circle cx="220.3" cy="265.1" r="1.15"/>
<circle cx="218.7" cy="217.3" r="1.15"/>
<circle cx="219.6" cy="228.2" r="1.15"/>
<circle cx="218.8" cy="239.3" r="1.15"/>
<circle cx="219.2" cy="242.0" r="1.15"/>
<circle cx="218.8" cy="234.9" r="1.15"/>
<circle cx="220.3" cy="223.6" r="1.15"/>
<circle cx="218.4" cy="268.5" r="1.15"/>
<circle cx="219.7" cy="251.1" r="1.15"/>
<circle cx="218.7" cy="240.8" r="1.15"/>
<circle cx="219.4" cy="209.1" r="1.15"/>
<circle cx="220.4" cy="227.1" r="1.15"/>
<circle cx="218.9" cy="246.9" r="1.15"/>
<circle cx="220.0" cy="261.1" r="1.15"/>
<circle cx="219.7" cy="224.0" r="1.15"/>
<circle cx="219.9" cy="229.8" r="1.15"/>
<circle cx="219.4" cy="246.8" r="1.15"/>
<circle cx="219.3" cy="239.8" r="1.15"/>
<circle cx="219.1" cy="213.1" r="1.15"/>
<circle cx="219.2" cy="235.6" r="1.15"/>
<circle cx="218.9" cy="220.7" r="1.15"/>
<circle cx="220.6" cy="274.3" r="1.15"/>
<circle cx="220.1" cy="240.7" r="1.15"/>
<circle cx="218.8" cy="254.9" r="1.15"/>
<circle cx="218.6" cy="263.3" r="1.15"/>
<circle cx="220.5" cy="224.6" r="1.15"/>
<circle cx="220.2" cy="237.4" r="1.15"/>
<circle cx="220.2" cy="263.9" r="1.15"/>
<circle cx="220.2" cy="242.4" r="1.15"/>
<circle cx="220.5" cy="247.4" r="1.15"/>
<circle cx="218.7" cy="272.3" r="1.15"/>
<circle cx="220.2" cy="242.9" r="1.15"/>
<circle cx="219.4" cy="220.7" r="1.15"/>
<circle cx="220.4" cy="241.0" r="1.15"/>
<circle cx="220.1" cy="245.0" r="1.15"/>
<circle cx="220.2" cy="263.0" r="1.15"/>
<circle cx="219.7" cy="213.0" r="1.15"/>
<circle cx="220.2" cy="239.2" r="1.15"/>
<circle cx="218.4" cy="224.0" r="1.15"/>
<circle cx="218.6" cy="288.2" r="1.15"/>
<circle cx="219.3" cy="285.1" r="1.15"/>
<circle cx="219.4" cy="281.0" r="1.15"/>
<circle cx="252.3" cy="246.8" r="1.15"/>
<circle cx="251.0" cy="235.3" r="1.15"/>
<circle cx="252.2" cy="260.6" r="1.15"/>
<circle cx="250.5" cy="269.8" r="1.15"/>
<circle cx="252.5" cy="237.9" r="1.15"/>
<circle cx="252.4" cy="237.7" r="1.15"/>
<circle cx="251.5" cy="267.1" r="1.15"/>
<circle cx="250.8" cy="274.3" r="1.15"/>
<circle cx="250.4" cy="246.1" r="1.15"/>
<circle cx="251.4" cy="288.2" r="1.15"/>
<circle cx="250.6" cy="243.1" r="1.15"/>
<circle cx="251.5" cy="282.4" r="1.15"/>
<circle cx="252.4" cy="287.0" r="1.15"/>
<circle cx="251.4" cy="246.5" r="1.15"/>
<circle cx="251.8" cy="257.8" r="1.15"/>
<circle cx="251.9" cy="258.6" r="1.15"/>
<circle cx="252.5" cy="252.2" r="1.15"/>
<circle cx="251.9" cy="280.4" r="1.15"/>
<circle cx="252.1" cy="253.3" r="1.15"/>
<circle cx="250.5" cy="273.8" r="1.15"/>
<circle cx="252.4" cy="231.6" r="1.15"/>
<circle cx="251.7" cy="247.6" r="1.15"/>
<circle cx="252.0" cy="249.5" r="1.15"/>
<circle cx="251.0" cy="258.5" r="1.15"/>
<circle cx="252.6" cy="251.4" r="1.15"/>
<circle cx="251.2" cy="273.8" r="1.15"/>
<circle cx="251.0" cy="271.0" r="1.15"/>
<circle cx="252.2" cy="262.3" r="1.15"/>
<circle cx="251.5" cy="239.0" r="1.15"/>
<circle cx="250.8" cy="253.5" r="1.15"/>
<circle cx="251.3" cy="225.7" r="1.15"/>
<circle cx="252.5" cy="289.7" r="1.15"/>
<circle cx="252.5" cy="243.7" r="1.15"/>
<circle cx="251.4" cy="244.5" r="1.15"/>
<circle cx="251.3" cy="240.2" r="1.15"/>
<circle cx="251.0" cy="289.5" r="1.15"/>
<circle cx="251.4" cy="285.6" r="1.15"/>
<circle cx="251.1" cy="271.6" r="1.15"/>
<circle cx="251.4" cy="275.0" r="1.15"/>
<circle cx="252.1" cy="268.9" r="1.15"/>
<circle cx="252.4" cy="247.4" r="1.15"/>
<circle cx="251.8" cy="242.2" r="1.15"/>
<circle cx="250.5" cy="276.0" r="1.15"/>
<circle cx="252.5" cy="254.2" r="1.15"/>
<circle cx="250.6" cy="239.0" r="1.15"/>
<circle cx="251.9" cy="274.8" r="1.15"/>
<circle cx="250.6" cy="278.5" r="1.15"/>
<circle cx="252.5" cy="267.1" r="1.15"/>
<circle cx="251.3" cy="273.3" r="1.15"/>
<circle cx="251.3" cy="259.9" r="1.15"/>
<circle cx="252.3" cy="240.7" r="1.15"/>
<circle cx="251.9" cy="258.5" r="1.15"/>
<circle cx="250.5" cy="238.5" r="1.15"/>
<circle cx="252.3" cy="257.1" r="1.15"/>
<circle cx="251.7" cy="256.4" r="1.15"/>
<circle cx="252.1" cy="281.1" r="1.15"/>
<circle cx="252.1" cy="250.8" r="1.15"/>
<circle cx="252.4" cy="284.9" r="1.15"/>
<circle cx="252.3" cy="273.4" r="1.15"/>
<circle cx="251.9" cy="271.3" r="1.15"/>
<circle cx="251.7" cy="234.0" r="1.15"/>
<circle cx="250.9" cy="239.0" r="1.15"/>
<circle cx="252.5" cy="269.3" r="1.15"/>
<circle cx="250.6" cy="259.1" r="1.15"/>
<circle cx="251.8" cy="233.5" r="1.15"/>
<circle cx="250.5" cy="241.3" r="1.15"/>
<circle cx="252.2" cy="260.8" r="1.15"/>
<circle cx="250.6" cy="279.9" r="1.15"/>
<circle cx="251.1" cy="266.1" r="1.15"/>
<circle cx="250.9" cy="261.8" r="1.15"/>
<circle cx="252.2" cy="258.7" r="1.15"/>
<circle cx="251.8" cy="224.1" r="1.15"/>
<circle cx="251.3" cy="257.3" r="1.15"/>
<circle cx="252.0" cy="266.1" r="1.15"/>
<circle cx="251.5" cy="250.0" r="1.15"/>
<circle cx="252.3" cy="237.8" r="1.15"/>
<circle cx="251.1" cy="283.8" r="1.15"/>
<circle cx="250.7" cy="241.2" r="1.15"/>
<circle cx="252.0" cy="269.8" r="1.15"/>
<circle cx="250.8" cy="245.9" r="1.15"/>
<circle cx="250.8" cy="241.8" r="1.15"/>
<circle cx="250.8" cy="255.4" r="1.15"/>
<circle cx="251.6" cy="238.2" r="1.15"/>
<circle cx="252.5" cy="282.2" r="1.15"/>
<circle cx="250.5" cy="272.5" r="1.15"/>
<circle cx="251.8" cy="222.9" r="1.15"/>
<circle cx="251.2" cy="253.3" r="1.15"/>
<circle cx="252.6" cy="266.3" r="1.15"/>
<circle cx="251.1" cy="225.1" r="1.15"/>
<circle cx="252.2" cy="284.9" r="1.15"/>
<circle cx="250.9" cy="229.2" r="1.15"/>
<circle cx="251.4" cy="276.4" r="1.15"/>
<circle cx="251.4" cy="281.7" r="1.15"/>
<circle cx="251.6" cy="230.3" r="1.15"/>
<circle cx="251.0" cy="236.7" r="1.15"/>
<circle cx="252.0" cy="285.6" r="1.15"/>
<circle cx="252.0" cy="271.6" r="1.15"/>
<circle cx="252.3" cy="278.8" r="1.15"/>
<circle cx="251.2" cy="222.9" r="1.15"/>
<circle cx="250.4" cy="248.5" r="1.15"/>
<circle cx="250.5" cy="265.7" r="1.15"/>
<circle cx="251.1" cy="243.2" r="1.15"/>
<circle cx="251.8" cy="269.9" r="1.15"/>
<circle cx="252.4" cy="239.0" r="1.15"/>
<circle cx="251.7" cy="229.3" r="1.15"/>
<circle cx="251.4" cy="236.0" r="1.15"/>
<circle cx="252.0" cy="266.5" r="1.15"/>
<circle cx="251.8" cy="226.7" r="1.15"/>
<circle cx="251.3" cy="254.9" r="1.15"/>
<circle cx="251.8" cy="255.4" r="1.15"/>
<circle cx="252.4" cy="243.5" r="1.15"/>
<circle cx="251.2" cy="226.4" r="1.15"/>
<circle cx="252.1" cy="243.7" r="1.15"/>
<circle cx="250.5" cy="270.1" r="1.15"/>
<circle cx="252.2" cy="290.3" r="1.15"/>
<circle cx="251.2" cy="225.4" r="1.15"/>
<circle cx="252.4" cy="253.2" r="1.15"/>
<circle cx="250.7" cy="263.4" r="1.15"/>
<circle cx="250.6" cy="275.0" r="1.15"/>
<circle cx="252.2" cy="253.4" r="1.15"/>
<circle cx="250.6" cy="257.8" r="1.15"/>
<circle cx="250.4" cy="285.2" r="1.15"/>
<circle cx="251.5" cy="270.2" r="1.15"/>
<circle cx="250.6" cy="270.8" r="1.15"/>
<circle cx="251.0" cy="260.2" r="1.15"/>
<circle cx="251.7" cy="222.5" r="1.15"/>
<circle cx="252.2" cy="280.1" r="1.15"/>
<circle cx="251.8" cy="230.6" r="1.15"/>
<circle cx="250.6" cy="252.0" r="1.15"/>
<circle cx="250.6" cy="253.5" r="1.15"/>
<circle cx="250.6" cy="281.4" r="1.15"/>
<circle cx="252.1" cy="243.2" r="1.15"/>
<circle cx="252.6" cy="264.4" r="1.15"/>
<circle cx="251.1" cy="224.9" r="1.15"/>
<circle cx="251.4" cy="261.2" r="1.15"/>
<circle cx="251.8" cy="264.8" r="1.15"/>
<circle cx="252.4" cy="275.5" r="1.15"/>
<circle cx="251.9" cy="248.2" r="1.15"/>
<circle cx="250.8" cy="267.8" r="1.15"/>
<circle cx="251.0" cy="262.2" r="1.15"/>
<circle cx="251.1" cy="294.4" r="1.15"/>
<circle cx="251.1" cy="292.7" r="1.15"/>
<circle cx="251.4" cy="298.9" r="1.15"/>
<circle cx="120.0" cy="208.8" r="1.15"/>
<circle cx="121.3" cy="220.6" r="1.15"/>
<circle cx="122.0" cy="230.0" r="1.15"/>
<circle cx="119.5" cy="240.6" r="1.15"/>
<circle cx="122.0" cy="276.9" r="1.15"/>
<circle cx="89.4" cy="204.3" r="1.15"/>
<circle cx="141.2" cy="229.2" r="1.15"/>
<circle cx="153.5" cy="244.0" r="1.15"/>
<circle cx="154.0" cy="256.0" r="1.15"/>
<circle cx="154.0" cy="266.7" r="1.15"/>
<circle cx="154.0" cy="283.6" r="1.15"/>
<circle cx="187.6" cy="272.9" r="1.15"/>
<circle cx="187.6" cy="277.4" r="1.15"/>
<circle cx="229.2" cy="230.1" r="1.15"/>
<circle cx="264.9" cy="247.7" r="1.15"/>
<circle cx="241.9" cy="286.9" r="1.15"/>
<circle cx="94.9" cy="181.6" r="1.15"/>
<circle cx="145.2" cy="205.6" r="1.15"/>
<circle cx="149.7" cy="219.7" r="1.15"/>
<circle cx="149.4" cy="233.1" r="1.15"/>
<circle cx="181.2" cy="214.0" r="1.15"/>
<circle cx="191.8" cy="201.4" r="1.15"/>
<circle cx="193.2" cy="212.7" r="1.15"/>
<circle cx="181.2" cy="240.2" r="1.15"/>
<circle cx="193.1" cy="201.7" r="1.15"/>
<circle cx="73.4" cy="176.3" r="1.15"/>
<circle cx="81.6" cy="177.5" r="1.15"/>
<circle cx="85.8" cy="184.9" r="1.15"/>
<circle cx="89.4" cy="191.5" r="1.15"/>
</g>
<rect x="91.3" y="151" width="16.5" height="2.8" fill="#b4bde6" opacity="0.8"/>
<rect x="107.8" y="163" width="23.7" height="5.6" fill="#b4bde6" opacity="0.8"/>
<rect x="131.5" y="175.6" width="39.2" height="7.8" fill="#b4bde6" opacity="0.8"/>
<rect x="170.7" y="188" width="28.1" height="9.5" fill="#b4bde6" opacity="0.8"/>
<rect x="198.8" y="200.2" width="32.3" height="11.5" fill="#b4bde6" opacity="0.8"/>
<rect x="231.1" y="209" width="62.8" height="15.8" fill="#b4bde6" opacity="0.8"/>
<rect x="91.3" y="178.1" width="16.5" height="3.9" fill="#b4bde6" opacity="0.8"/>
<rect x="107.8" y="204.2" width="23.7" height="10.4" fill="#b4bde6" opacity="0.8"/>
<rect x="131.5" y="235.7" width="39.2" height="18.0" fill="#b4bde6" opacity="0.8"/>
<rect x="170.7" y="265.2" width="28.1" height="19.7" fill="#b4bde6" opacity="0.8"/>
<rect x="198.8" y="284" width="32.3" height="11.8" fill="#b4bde6" opacity="0.8"/>
<rect x="231.1" y="292.3" width="62.8" height="6.3" fill="#b4bde6" opacity="0.8"/>
<rect x="91.3" y="165.1" width="16.5" height="1.7" fill="#efa6ab" opacity="0.8"/>
<rect x="107.8" y="181.3" width="23.7" height="4.3" fill="#efa6ab" opacity="0.8"/>
<rect x="131.5" y="202.5" width="39.2" height="5.1" fill="#efa6ab" opacity="0.8"/>
<rect x="170.7" y="223" width="28.1" height="6.8" fill="#efa6ab" opacity="0.8"/>
<rect x="198.8" y="241" width="32.3" height="8.8" fill="#efa6ab" opacity="0.8"/>
<rect x="231.1" y="256.7" width="62.8" height="9.0" fill="#efa6ab" opacity="0.8"/>
<polyline points="77,151.3 90.3,166.5 122,184 154,202.5 187,223.4 219,243.5 252,261" fill="none" stroke="#b8343c" stroke-width="1"/>
<polyline points="92,154 122,168 154,183 187,200.5 219,215 252,228.5" fill="none" stroke="#6a3a40" stroke-width="0.85" stroke-dasharray="2,1.9"/>
<polyline points="91.5,185.5 103,198.2 122,214 154,241 187,266 219,283 252,295" fill="none" stroke="#6a3a40" stroke-width="0.85" stroke-dasharray="2,1.9"/>
<path d="M68.5 116 V304.3 H289.5" fill="none" stroke="#111" stroke-width="1.1"/>
<path d="M65.2 122.8 H68.5" stroke="#111" stroke-width="1"/>
<text x="61.9" y="124.8" font-size="5.8" fill="#222" font-weight="normal" text-anchor="end" >1000</text>
<path d="M65.2 166.2 H68.5" stroke="#111" stroke-width="1"/>
<text x="61.9" y="168.2" font-size="5.8" fill="#222" font-weight="normal" text-anchor="end" >100</text>
<path d="M65.2 209.6 H68.5" stroke="#111" stroke-width="1"/>
<text x="61.9" y="211.6" font-size="5.8" fill="#222" font-weight="normal" text-anchor="end" >10</text>
<path d="M65.2 253.0 H68.5" stroke="#111" stroke-width="1"/>
<text x="61.9" y="255.0" font-size="5.8" fill="#222" font-weight="normal" text-anchor="end" >1</text>
<path d="M65.2 296.4 H68.5" stroke="#111" stroke-width="1"/>
<text x="61.9" y="298.4" font-size="5.8" fill="#222" font-weight="normal" text-anchor="end" >0.1</text>
<path d="M72.4 304.3 V307.9" stroke="#111" stroke-width="1"/>
<text x="72.4" y="316" font-size="5.8" fill="#222" font-weight="normal" text-anchor="middle" >0</text>
<path d="M107.3 304.3 V307.9" stroke="#111" stroke-width="1"/>
<text x="107.30000000000001" y="316" font-size="5.8" fill="#222" font-weight="normal" text-anchor="middle" >30</text>
<path d="M142.2 304.3 V307.9" stroke="#111" stroke-width="1"/>
<text x="142.2" y="316" font-size="5.8" fill="#222" font-weight="normal" text-anchor="middle" >60</text>
<path d="M177.1 304.3 V307.9" stroke="#111" stroke-width="1"/>
<text x="177.10000000000002" y="316" font-size="5.8" fill="#222" font-weight="normal" text-anchor="middle" >90</text>
<path d="M212.0 304.3 V307.9" stroke="#111" stroke-width="1"/>
<text x="212.0" y="316" font-size="5.8" fill="#222" font-weight="normal" text-anchor="middle" >120</text>
<path d="M246.9 304.3 V307.9" stroke="#111" stroke-width="1"/>
<text x="246.9" y="316" font-size="5.8" fill="#222" font-weight="normal" text-anchor="middle" >150</text>
<path d="M281.8 304.3 V307.9" stroke="#111" stroke-width="1"/>
<text x="281.8" y="316" font-size="5.8" fill="#222" font-weight="normal" text-anchor="middle" >180</text>
<text x="175.3" y="325.9" font-size="5.8" fill="#000" font-weight="bold" text-anchor="middle" textLength="70" lengthAdjust="spacingAndGlyphs" >Time after previous dose (day)</text>
<text transform="translate(48.2,201.5) rotate(-90)" font-size="5.8" fill="#000" stroke="#000" stroke-width="0.12" text-anchor="middle" textLength="67" lengthAdjust="spacingAndGlyphs">Concentration (μg/mL)</text>
<path d="M296.8 217.1 L302.6 211.5 V214.4 H311 V219.79999999999998 H302.6 V222.7 Z" fill="#b8c2dd"/>
<path d="M296.8 261.3 L302.6 255.70000000000002 V258.6 H311 V264.0 H302.6 V266.90000000000003 Z" fill="#f4b8bb"/>
<path d="M296.8 295.1 L302.6 289.5 V292.40000000000003 H311 V297.8 H302.6 V300.70000000000005 Z" fill="#b8c2dd"/>
<text x="315.4" y="214.6" font-size="8.2" fill="#000" font-weight="normal" text-anchor="start" stroke="#000" stroke-width="0.1">97.5<tspan font-size="4.8" dy="-3.2">th</tspan></text>
<text x="315.4" y="222.9" font-size="8.2" fill="#000" font-weight="normal" text-anchor="start" textLength="38.8" lengthAdjust="spacingAndGlyphs" stroke="#000" stroke-width="0.1">percentile</text>
<text x="315.5" y="249" font-size="8.2" fill="#000" font-weight="normal" text-anchor="start" textLength="28.1" lengthAdjust="spacingAndGlyphs" stroke="#000" stroke-width="0.1">95% CI</text>
<text x="315.5" y="258.4" font-size="8.2" fill="#000" font-weight="normal" text-anchor="start" textLength="22.4" lengthAdjust="spacingAndGlyphs" stroke="#000" stroke-width="0.1">of the</text>
<text x="315.5" y="267.1" font-size="8.2" fill="#000" font-weight="normal" text-anchor="start" textLength="37" lengthAdjust="spacingAndGlyphs" stroke="#000" stroke-width="0.1">predicted</text>
<text x="315.5" y="276" font-size="8.2" fill="#000" font-weight="normal" text-anchor="start" textLength="28.1" lengthAdjust="spacingAndGlyphs" stroke="#000" stroke-width="0.1">median</text>
<text x="315.5" y="293.9" font-size="8.2" fill="#000" font-weight="normal" text-anchor="start" stroke="#000" stroke-width="0.1">2.5<tspan font-size="4.8" dy="-3.2">th</tspan></text>
<text x="315.5" y="302.8" font-size="8.2" fill="#000" font-weight="normal" text-anchor="start" textLength="38.8" lengthAdjust="spacingAndGlyphs" stroke="#000" stroke-width="0.1">percentile</text>
</svg></body></html>
